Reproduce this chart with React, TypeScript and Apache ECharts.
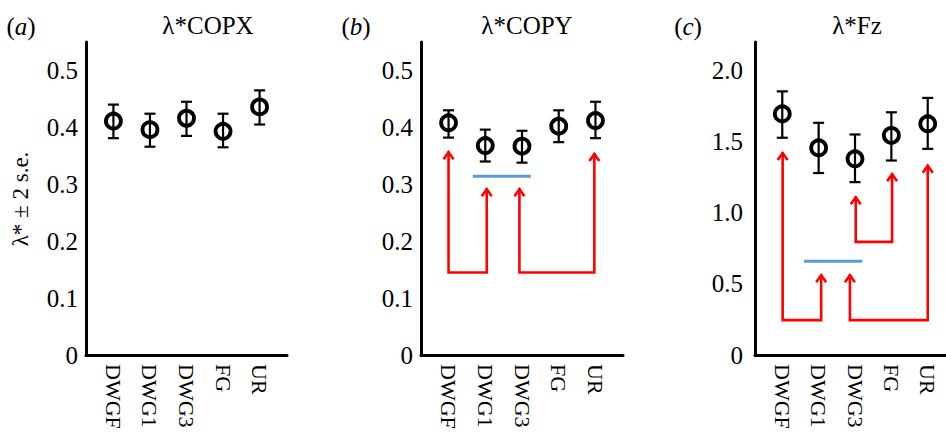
import React, { useEffect, useRef } from "react";
import * as echarts from "echarts";

const categories = ["DWGF", "DWG1", "DWG3", "FG", "UR"];
const positions = [1, 2, 3, 4, 5];

// panel (a) λ*COPX
const copxMean = [0.411, 0.396, 0.416, 0.393, 0.436];
const copxLow = [0.381, 0.366, 0.385, 0.365, 0.405];
const copxHigh = [0.44, 0.424, 0.445, 0.424, 0.465];
// panel (b) λ*COPY
const copyMean = [0.408, 0.368, 0.367, 0.402, 0.412];
const copyLow = [0.382, 0.34, 0.338, 0.374, 0.381];
const copyHigh = [0.43, 0.396, 0.394, 0.43, 0.445];
// panel (c) λ*Fz
const fzMean = [1.695, 1.456, 1.379, 1.543, 1.625];
const fzLow = [1.527, 1.279, 1.215, 1.367, 1.449];
const fzHigh = [1.853, 1.632, 1.55, 1.706, 1.807];

// arrows: [xStart, tipStart, xEnd, tipEnd, base]
const copyArrows = [
  [1.0, 0.358, 2.04, 0.293, 0.145],
  [2.93, 0.293, 4.97, 0.355, 0.145],
];
const fzArrows = [
  [1.01, 1.426, 2.07, 0.568, 0.245],
  [2.86, 0.568, 5.0, 1.337, 0.245],
  [3.02, 1.115, 4.02, 1.278, 0.795],
];
// blue bars: [xStart, xEnd, y]
const copyBar = [1.66, 3.24, 0.314];
const fzBar = [1.6, 3.2, 0.659];

const yTicksSmall = { min: 0, max: 0.55, interval: 0.1 };
const yTicksFz = { min: 0, max: 2.2, interval: 0.5 };

const FONT = "Liberation Serif";

function errRender(params: any, api: any) {
  const x = api.value(0);
  const lo = api.coord([x, api.value(1)]);
  const hi = api.coord([x, api.value(2)]);
  const w = 5.5;
  const st = { stroke: "#000", lineWidth: 2.2 };
  return {
    type: "group",
    children: [
      { type: "line", shape: { x1: lo[0], y1: lo[1], x2: hi[0], y2: hi[1] }, style: st },
      { type: "line", shape: { x1: hi[0] - w, y1: hi[1], x2: hi[0] + w, y2: hi[1] }, style: st },
      { type: "line", shape: { x1: lo[0] - w, y1: lo[1], x2: lo[0] + w, y2: lo[1] }, style: st },
    ],
  };
}

function arrowRender(params: any, api: any) {
  const x1 = api.value(0), t1 = api.value(1), x2 = api.value(2), t2 = api.value(3), b = api.value(4);
  const a = api.coord([x1, t1]);
  const ab = api.coord([x1, b]);
  const bb = api.coord([x2, b]);
  const bt = api.coord([x2, t2]);
  const st = { stroke: "#ff0000", lineWidth: 2.6, fill: "none" };
  const head = (p: number[]) => ({
    type: "polyline",
    shape: { points: [[p[0] - 5, p[1] + 8], [p[0], p[1] + 1], [p[0] + 5, p[1] + 8]] },
    style: st,
  });
  return {
    type: "group",
    children: [
      { type: "polyline", shape: { points: [a, ab, bb, bt] }, style: st },
      head(a),
      head(bt),
    ],
  };
}

export default function App() {
  const ref = useRef<HTMLDivElement>(null);
  useEffect(() => {
    if (!ref.current) return;
    const chart = echarts.init(ref.current, null, { renderer: "svg" });

    const grids = [
      { left: 86, top: 42, width: 201, height: 313, outerBoundsMode: "none", containLabel: false },
      { left: 421, top: 42, width: 202, height: 313, outerBoundsMode: "none", containLabel: false },
      { left: 755, top: 42, width: 200, height: 313, outerBoundsMode: "none", containLabel: false },
    ];

    const xAxes = grids.map((g, i) => ({
      type: "value",
      gridIndex: i,
      min: 0.25,
      max: 5.75,
      axisLine: { show: true, onZero: false, lineStyle: { color: "#000", width: 3 } },
      axisTick: { show: false },
      splitLine: { show: false },
      axisLabel: {
        customValues: positions,
        formatter: (v: number) => categories[Math.round(v) - 1] ?? "",
        rotate: -90,
        margin: 9,
        color: "#000",
        fontFamily: FONT,
        fontSize: 22,
        hideOverlap: false,
      },
    }));

    const yAxes = [yTicksSmall, yTicksSmall, yTicksFz].map((t, i) => ({
      type: "value",
      gridIndex: i,
      min: t.min,
      max: t.max,
      interval: t.interval,
      axisLine: { show: true, lineStyle: { color: "#000", width: 3 } },
      axisTick: { show: false },
      splitLine: { show: false },
      axisLabel: {
        showMaxLabel: false,
        margin: i === 2 ? 12 : 8,
        color: "#000",
        fontFamily: FONT,
        fontSize: 25,
        formatter: (v: number) => (v === 0 ? "0" : v.toFixed(1)),
      },
    }));

    const means = [copxMean, copyMean, fzMean];
    const lows = [copxLow, copyLow, fzLow];
    const highs = [copxHigh, copyHigh, fzHigh];

    const series: any[] = [];
    for (let i = 0; i < 3; i++) {
      series.push({
        type: "custom",
        xAxisIndex: i,
        yAxisIndex: i,
        renderItem: errRender,
        encode: { x: 0, y: [1, 2] },
        data: positions.map((p, k) => [p, lows[i][k], highs[i][k]]),
        z: 3,
      });
      series.push({
        type: "scatter",
        xAxisIndex: i,
        yAxisIndex: i,
        symbol: "circle",
        symbolSize: 15,
        itemStyle: { color: "rgba(0,0,0,0)", borderColor: "#000", borderWidth: 3.8, opacity: 1 },
        data: positions.map((p, k) => [p, means[i][k]]),
        z: 4,
      });
    }
    const arrowsets = [
      { idx: 1, data: copyArrows, bar: copyBar },
      { idx: 2, data: fzArrows, bar: fzBar },
    ];
    arrowsets.forEach((s) => {
      series.push({
        type: "custom",
        xAxisIndex: s.idx,
        yAxisIndex: s.idx,
        renderItem: arrowRender,
        encode: { x: [0, 2], y: [1, 3, 4] },
        data: s.data,
        z: 2,
      });
      series.push({
        type: "line",
        xAxisIndex: s.idx,
        yAxisIndex: s.idx,
        symbol: "none",
        lineStyle: { color: "#5b9bd5", width: 3 },
        data: [
          [s.bar[0], s.bar[2]],
          [s.bar[1], s.bar[2]],
        ],
        z: 2,
      });
    });

    const rich = {
      p: { fontFamily: FONT, fontSize: 25, fill: "#000" },
      i: { fontFamily: FONT, fontSize: 25, fontStyle: "italic", fill: "#000" },
    };
    const panelLabel = (letter: string, x: number) => ({
      type: "text",
      x,
      y: 26,
      style: {
        text: `{p|(}{i|${letter}}{p|)}`,
        rich,
        fill: "#000",
        fontFamily: FONT,
        fontSize: 25,
        align: "center",
        verticalAlign: "middle",
      },
    });
    const titleText = (t: string, x: number) => ({
      type: "text",
      x,
      y: 25,
      style: {
        text: t,
        fontFamily: FONT,
        fontSize: 25,
        fill: "#000",
        align: "center",
        verticalAlign: "middle",
      },
    });

    chart.setOption({
      animation: false,
      backgroundColor: "#fff",
      grid: grids,
      xAxis: xAxes,
      yAxis: yAxes,
      series,
      graphic: [
        panelLabel("a", 21),
        panelLabel("b", 356),
        panelLabel("c", 688),
        titleText("λ*COPX", 208),
        titleText("λ*COPY", 527),
        titleText("λ*Fz", 857),
        {
          type: "text",
          x: 20,
          y: 199,
          rotation: Math.PI / 2,
          style: {
            text: "λ* ± 2 s.e.",
            fontFamily: FONT,
            fontSize: 23,
            fill: "#000",
            align: "center",
            verticalAlign: "middle",
          },
        },
      ],
    });
    return () => chart.dispose();
  }, []);
  return (
    <div
      ref={ref}
      style={{ position: "absolute", left: 0, top: 0, width: 946, height: 432 }}
    />
  );
}
